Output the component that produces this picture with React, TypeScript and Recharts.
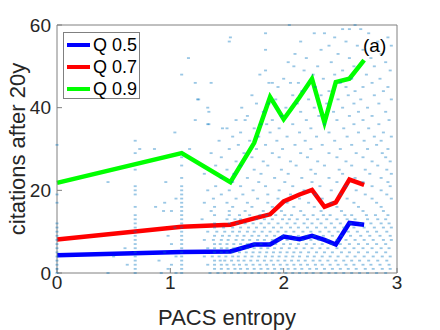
import { ComposedChart, Line, Scatter, XAxis, YAxis } from 'recharts';

// entropy bin centres for the quantile curves
const entropyBins = [0, 1.1, 1.53, 1.74, 1.88, 2.0, 2.14, 2.25, 2.36, 2.46, 2.58, 2.71];
const q50 = [4.3, 5.1, 5.2, 6.9, 6.9, 8.8, 8.2, 9.0, 8.0, 6.9, 12.1, 11.7];
const q70 = [8.1, 11.2, 11.7, 13.2, 14.2, 17.3, 19.0, 20.1, 16.0, 17.1, 22.6, 21.3];
const q90 = [21.8, 29.0, 22.0, 31.5, 42.6, 37.2, 42.5, 47.0, 36.4, 46.2, 47.0, 51.5];

const xTicks = [0, 1, 2, 3];
const yTicks = [0, 20, 40, 60];

// individual papers: [citations, entropies...]
const scatterRows: [number, number[]][] = [
  [60, [2.05, 2.63]],
  [59, [2.52, 2.58, 2.68]],
  [58, [1.84, 2.27, 2.36, 2.75]],
  [57, [1.53, 2.45, 2.92]],
  [56, [1.52, 2.15, 2.55, 2.83]],
  [55, [2.4, 2.65, 2.95]],
  [54, [1.84, 2.33, 2.7]],
  [53, [2.1, 2.48, 2.86]],
  [52, [1.16, 2.2, 2.58, 2.77]],
  [51, [2.04, 2.42, 2.9]],
  [50, [2.09, 2.3, 2.62, 2.8]],
  [49, [1.84, 2.18, 2.52, 2.94]],
  [48, [1.1, 1.79, 2.26, 2.45, 2.73]],
  [47, [2.0, 2.35, 2.6, 2.85]],
  [46, [1.22, 1.36, 1.87, 1.9, 2.06, 2.13, 2.5, 2.78]],
  [45, [1.95, 2.28, 2.55, 2.7, 2.92]],
  [44, [2.16, 2.4, 2.63, 2.88]],
  [43, [1.72, 2.08, 2.33, 2.57, 2.8]],
  [42, [1.24, 1.25, 1.93, 2.22, 2.48, 2.68, 2.95]],
  [41, [1.76, 1.87, 2.12, 2.38, 2.62, 2.84]],
  [40, [1.33, 1.63, 2.02, 2.27, 2.52, 2.74]],
  [39, [1.34, 1.82, 2.15, 2.44, 2.66, 2.9]],
  [38, [1.68, 1.98, 2.31, 2.58, 2.78]],
  [37, [1.22, 1.58, 1.66, 1.9, 2.2, 2.47, 2.7, 2.93]],
  [36, [1.33, 1.34, 1.8, 1.85, 2.08, 2.36, 2.62, 2.84]],
  [35, [1.46, 1.5, 1.74, 1.96, 2.24, 2.53, 2.75]],
  [34, [1.04, 1.62, 1.88, 2.14, 2.4, 2.66, 2.88]],
  [33, [1.55, 1.78, 2.03, 2.29, 2.56, 2.8, 2.95]],
  [32, [0.69, 1.43, 1.7, 1.94, 2.19, 2.45, 2.71, 2.86]],
  [31, [0.0, 1.6, 1.84, 2.1, 2.34, 2.6, 2.82]],
  [30, [0.73, 0.86, 1.17, 1.52, 1.76, 1.99, 2.24, 2.5, 2.74, 2.92]],
  [29, [0.69, 1.36, 1.65, 1.9, 2.15, 2.4, 2.64, 2.87]],
  [28, [1.1, 1.45, 1.72, 1.96, 2.21, 2.47, 2.7, 2.9]],
  [27, [1.58, 1.82, 2.06, 2.3, 2.55, 2.78, 2.94]],
  [26, [1.1, 1.4, 1.62, 1.86, 2.11, 2.36, 2.6, 2.83]],
  [25, [0.69, 1.5, 1.74, 1.98, 2.24, 2.49, 2.72, 2.91]],
  [24, [1.3, 1.56, 1.8, 2.04, 2.28, 2.52, 2.76, 2.95]],
  [23, [1.1, 1.45, 1.68, 1.92, 2.16, 2.4, 2.63, 2.86]],
  [22, [0.45, 0.96, 1.55, 1.78, 2.01, 2.25, 2.47, 2.7, 2.92]],
  [21, [0.69, 1.1, 1.4, 1.62, 1.84, 2.08, 2.32, 2.55, 2.78, 2.94]],
  [20, [0.69, 1.1, 1.33, 1.52, 1.73, 1.96, 2.18, 2.42, 2.64, 2.86]],
  [19, [0.0, 0.69, 1.1, 1.45, 1.64, 1.86, 2.06, 2.28, 2.5, 2.72, 2.91]],
  [18, [1.05, 1.1, 1.38, 1.58, 1.77, 1.95, 2.14, 2.34, 2.56, 2.78, 2.95]],
  [17, [0.0, 0.95, 1.1, 1.3, 1.5, 1.68, 1.86, 2.03, 2.22, 2.42, 2.62, 2.82]],
  [16, [0.69, 0.87, 1.1, 1.39, 1.55, 1.72, 1.9, 2.09, 2.27, 2.47, 2.66, 2.86]],
  [15, [0.94, 1.01, 1.1, 1.36, 1.52, 1.66, 1.82, 1.98, 2.15, 2.33, 2.51, 2.7, 2.88]],
  [14, [0.69, 1.1, 1.39, 1.52, 1.61, 1.7, 1.79, 1.85, 1.93, 2.01, 2.07, 2.18, 2.26, 2.35, 2.41, 2.54, 2.6, 2.73, 2.81, 2.92]],
  [13, [0.69, 1.1, 1.28, 1.5, 1.57, 1.62, 1.76, 1.83, 1.9, 1.99, 2.05, 2.12, 2.21, 2.3, 2.38, 2.47, 2.56, 2.63, 2.74, 2.83, 2.9]],
  [12, [0.0, 0.69, 1.1, 1.39, 1.52, 1.59, 1.66, 1.73, 1.8, 1.87, 1.95, 2.03, 2.1, 2.18, 2.25, 2.33, 2.42, 2.5, 2.59, 2.68, 2.77, 2.86, 2.93]],
  [11, [0.0, 0.69, 1.04, 1.1, 1.39, 1.47, 1.55, 1.62, 1.69, 1.76, 1.83, 1.91, 1.98, 2.06, 2.13, 2.21, 2.29, 2.37, 2.45, 2.53, 2.62, 2.71, 2.8, 2.88, 2.95]],
  [10, [0.0, 0.69, 1.1, 1.33, 1.41, 1.48, 1.55, 1.61, 1.68, 1.74, 1.81, 1.88, 1.95, 2.02, 2.09, 2.17, 2.24, 2.32, 2.4, 2.48, 2.57, 2.65, 2.74, 2.82, 2.91]],
  [9, [0.0, 0.69, 0.98, 1.1, 1.39, 1.46, 1.52, 1.59, 1.65, 1.72, 1.78, 1.85, 1.92, 1.99, 2.06, 2.13, 2.2, 2.27, 2.35, 2.43, 2.51, 2.59, 2.68, 2.76, 2.85, 2.94]],
  [8, [0.0, 0.69, 1.1, 1.3, 1.38, 1.45, 1.51, 1.58, 1.64, 1.7, 1.77, 1.83, 1.9, 1.96, 2.03, 2.1, 2.17, 2.24, 2.31, 2.39, 2.47, 2.55, 2.63, 2.71, 2.79, 2.88, 2.95]],
  [7, [0.0, 0.69, 1.01, 1.1, 1.39, 1.44, 1.5, 1.56, 1.62, 1.68, 1.74, 1.8, 1.87, 1.93, 2.0, 2.06, 2.13, 2.2, 2.27, 2.34, 2.42, 2.5, 2.58, 2.66, 2.74, 2.82, 2.9]],
  [6, [0.0, 0.6, 0.69, 1.1, 1.33, 1.39, 1.45, 1.5, 1.56, 1.62, 1.68, 1.74, 1.8, 1.86, 1.92, 1.98, 2.05, 2.11, 2.18, 2.25, 2.32, 2.39, 2.47, 2.54, 2.62, 2.7, 2.78, 2.86, 2.93]],
  [5, [0.0, 0.69, 0.95, 1.1, 1.39, 1.45, 1.5, 1.55, 1.61, 1.67, 1.73, 1.79, 1.85, 1.91, 1.97, 2.03, 2.09, 2.15, 2.22, 2.29, 2.36, 2.43, 2.51, 2.58, 2.66, 2.74, 2.82, 2.9]],
  [4, [0.0, 0.5, 0.69, 1.05, 1.1, 1.3, 1.37, 1.43, 1.49, 1.55, 1.6, 1.66, 1.72, 1.78, 1.84, 1.9, 1.96, 2.02, 2.08, 2.14, 2.21, 2.27, 2.34, 2.41, 2.48, 2.56, 2.63, 2.71, 2.79, 2.87, 2.94]],
  [3, [0.0, 0.69, 0.9, 1.1, 1.39, 1.44, 1.48, 1.54, 1.6, 1.65, 1.71, 1.77, 1.83, 1.89, 1.95, 2.01, 2.07, 2.13, 2.19, 2.26, 2.32, 2.39, 2.46, 2.53, 2.6, 2.67, 2.75, 2.83, 2.91]],
  [2, [0.0, 0.62, 0.69, 1.01, 1.1, 1.33, 1.39, 1.45, 1.5, 1.56, 1.61, 1.67, 1.73, 1.79, 1.85, 1.91, 1.97, 2.03, 2.09, 2.15, 2.21, 2.28, 2.34, 2.41, 2.48, 2.55, 2.62, 2.7, 2.77, 2.85, 2.93]],
  [1, [0.0, 0.69, 0.98, 1.1, 1.39, 1.45, 1.51, 1.57, 1.62, 1.68, 1.74, 1.8, 1.86, 1.92, 1.98, 2.04, 2.1, 2.16, 2.23, 2.29, 2.36, 2.43, 2.5, 2.57, 2.64, 2.72, 2.79, 2.87, 2.94]],
  [0, [0.0, 0.45, 0.69, 0.92, 1.05, 1.1, 1.35, 1.42, 1.48, 1.54, 1.6, 1.66, 1.72, 1.78, 1.84, 1.9, 1.96, 2.02, 2.08, 2.14, 2.2, 2.26, 2.33, 2.4, 2.46, 2.53, 2.6, 2.67, 2.74, 2.82, 2.9]]
];

const papers = scatterRows.flatMap(([y, xs]) => xs.map((x) => ({ x, y })));
const curve = (vals: number[]) => entropyBins.map((x, i) => ({ x, y: vals[i] }));

const series = [
  { name: 'Q 0.5', color: '#0000ff', data: curve(q50) },
  { name: 'Q 0.7', color: '#ff0000', data: curve(q70) },
  { name: 'Q 0.9', color: '#00ff00', data: curve(q90) }
];

const font = '"Liberation Sans", Arial, Helvetica, sans-serif';
const axisGray = '#808080';
const tickStyle = { fontSize: 19, fill: '#262626', fontFamily: font };

const Dot = (p: any) => <rect x={p.cx - 1.5} y={p.cy - 0.9} width={3} height={1.8} fill="#0072bd" fillOpacity={0.4} />;

export default function App() {
  return (
    <div style={{ position: 'absolute', left: 0, top: 0, width: 440, height: 330, background: '#fff', fontFamily: font }}>
      <ComposedChart width={440} height={330} margin={{ top: 0, right: 0, bottom: 0, left: 0 }}>
        <XAxis
          dataKey="x"
          type="number"
          domain={[0, 3]}
          ticks={xTicks}
          height={57}
          tickSize={-5}
          tickMargin={8}
          stroke={axisGray}
          tick={tickStyle}
          label={{
            content: () => (
              <text x={227} y={325} textAnchor="middle" fontSize={22} fill="#262626" fontFamily={font}>
                PACS entropy
              </text>
            )
          }}
        />
        <XAxis xAxisId="top" orientation="top" type="number" domain={[0, 3]} ticks={xTicks} height={25} tickSize={-5} tick={false} stroke={axisGray} />
        <YAxis
          dataKey="y"
          type="number"
          domain={[0, 60]}
          ticks={yTicks}
          width={57}
          tickSize={-5}
          tickMargin={11}
          stroke={axisGray}
          tick={tickStyle}
          label={{
            content: () => (
              <text x={25} y={149} transform="rotate(-90 25 149)" textAnchor="middle" fontSize={22} fill="#262626" fontFamily={font}>
                citations after 20y
              </text>
            )
          }}
        />
        <YAxis yAxisId="right" orientation="right" type="number" domain={[0, 60]} ticks={yTicks} width={43} tickSize={-5} tick={false} stroke={axisGray} />
        <Scatter data={papers} shape={Dot} isAnimationActive={false} />
        {series.map((s) => (
          <Line
            key={s.name}
            data={s.data}
            dataKey="y"
            stroke={s.color}
            strokeWidth={4.5}
            dot={false}
            strokeLinejoin="miter"
            isAnimationActive={false}
          />
        ))}
      </ComposedChart>

      <div
        style={{
          position: 'absolute',
          left: 63,
          top: 32,
          width: 77,
          height: 67,
          border: `1px solid ${axisGray}`,
          background: '#fff',
          boxSizing: 'border-box'
        }}
      >
        {series.map((s, i) => (
          <div key={s.name} style={{ position: 'absolute', left: 3, top: 1 + i * 22, height: 22, display: 'flex', alignItems: 'center' }}>
            <span style={{ display: 'inline-block', width: 23, height: 4, background: s.color, marginRight: 3 }} />
            <span style={{ fontSize: 18, color: '#000', lineHeight: '22px', whiteSpace: 'nowrap' }}>{s.name}</span>
          </div>
        ))}
      </div>

      <div style={{ position: 'absolute', left: 363, top: 35, fontSize: 19, color: '#000', lineHeight: '22px' }}>(a)</div>
    </div>
  );
}
